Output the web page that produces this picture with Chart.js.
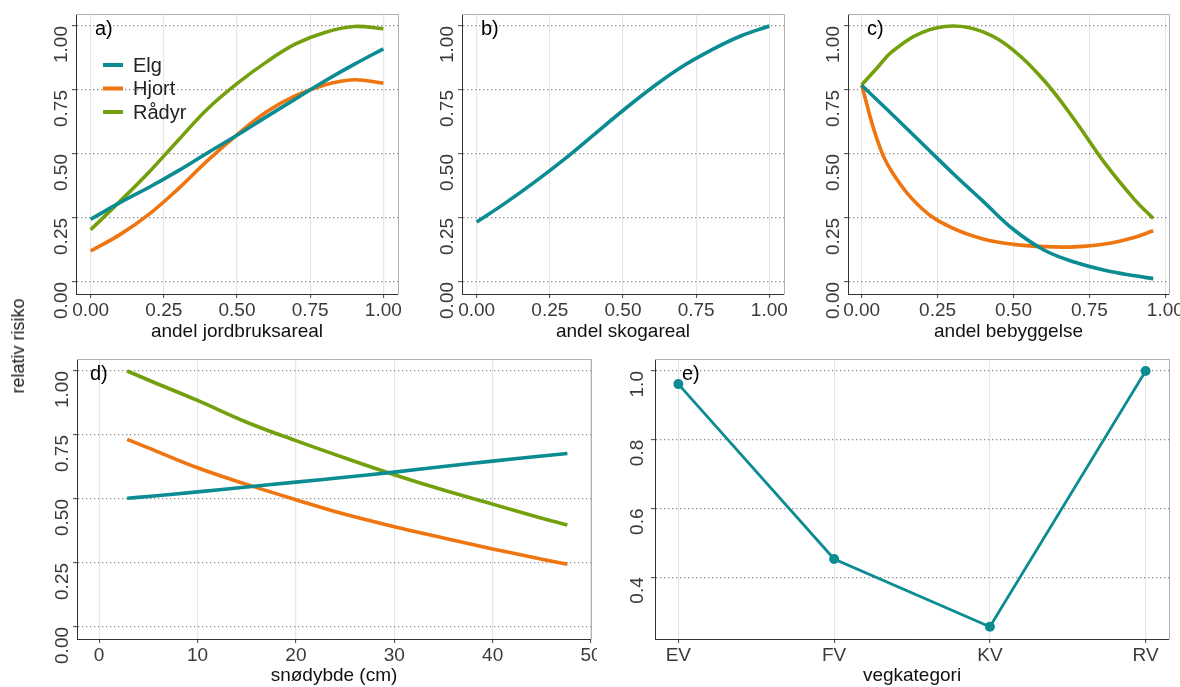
<!DOCTYPE html>
<html lang="no">
<head>
<meta charset="UTF-8">
<title>relativ risiko</title>
<style>
  body { margin: 0; width: 1180px; height: 687px; overflow: hidden; background: #fff; position: relative;
         font-family: "Liberation Sans", Arial, sans-serif; }
  canvas { position: absolute; }
  #ylab { position: absolute; left: 18px; top: 346px; transform: translate(-50%, -50%) rotate(-90deg);
          font-family: "Liberation Sans", Arial, sans-serif; font-size: 18px; font-weight: 400;
          color: #1a1a1a; white-space: nowrap; line-height: 1; }
</style>
</head>
<body>
<canvas id="panelA" width="412" height="345" style="left:0px;top:0px"></canvas>
<canvas id="panelB" width="398" height="345" style="left:400px;top:0px"></canvas>
<canvas id="panelC" width="394" height="345" style="left:786px;top:0px"></canvas>
<canvas id="panelD" width="597" height="350" style="left:0px;top:345px"></canvas>
<canvas id="panelE" width="583" height="350" style="left:597px;top:345px"></canvas>
<div id="ylab">relativ risiko</div>

<script src="https://cdn.jsdelivr.net/npm/chart.js"></script>
<script>
// ---- data ----
const species = ['Elg', 'Hjort', 'Rådyr'];

// a) andel jordbruksareal
const jordX = [0, 0.1, 0.2, 0.3, 0.4, 0.5, 0.6, 0.7, 0.8, 0.9, 1.0];
const jordElg = [0.245, 0.31, 0.37, 0.435, 0.505, 0.573, 0.645, 0.715, 0.785, 0.85, 0.911];
const jordHjort = [0.121, 0.185, 0.265, 0.365, 0.475, 0.575, 0.664, 0.728, 0.77, 0.79, 0.777];
const jordRadyr = [0.204, 0.315, 0.43, 0.555, 0.677, 0.775, 0.859, 0.93, 0.975, 0.998, 0.99];

// b) andel skogareal
const skogX = [0, 0.1, 0.2, 0.3, 0.4, 0.5, 0.6, 0.7, 0.8, 0.9, 1.0];
const skogElg = [0.234, 0.31, 0.392, 0.48, 0.575, 0.67, 0.76, 0.84, 0.905, 0.96, 1.0];

// c) andel bebyggelse
const bebX = [0, 0.05, 0.1, 0.2, 0.3, 0.4, 0.5, 0.6, 0.7, 0.8, 0.9, 0.96];
const bebElg = [0.768, 0.712, 0.655, 0.54, 0.425, 0.315, 0.205, 0.125, 0.078, 0.046, 0.024, 0.013];
const bebHjort = [0.77, 0.56, 0.43, 0.285, 0.21, 0.168, 0.147, 0.138, 0.137, 0.148, 0.175, 0.2];
const bebRadyr = [0.77, 0.835, 0.9, 0.975, 1.0, 0.977, 0.905, 0.788, 0.635, 0.465, 0.32, 0.248];

// d) snødybde (cm)
const snoX = [2.85, 5, 10, 15, 20, 25, 30, 35, 40, 45, 47.6];
const snoElg = [0.503, 0.51, 0.528, 0.547, 0.566, 0.585, 0.605, 0.627, 0.648, 0.668, 0.678];
const snoHjort = [0.733, 0.70, 0.622, 0.557, 0.497, 0.44, 0.392, 0.348, 0.305, 0.265, 0.245];
const snoRadyr = [1.0, 0.965, 0.885, 0.80, 0.728, 0.66, 0.595, 0.535, 0.48, 0.425, 0.398];

// e) vegkategori
const vegKategori = ['EV', 'FV', 'KV', 'RV'];
const vegElg = [0.962, 0.453, 0.256, 1.0];

// tick values
const propTicks = [0, 0.25, 0.5, 0.75, 1.0];
const snoTicks = [0, 10, 20, 30, 40, 50];
const vegYTicks = [0.4, 0.6, 0.8, 1.0];

// ---- styling ----
const colours = { Elg: '#0b8c93', Hjort: '#ee750f', 'Rådyr': '#74a00e' };
const FONT = '"Liberation Sans", Arial, sans-serif';

function pts(xs, ys) {
  return xs.map((x, i) => ({ x: x, y: ys[i] }));
}

function curve(name, xs, ys) {
  return {
    label: name, data: pts(xs, ys),
    borderColor: colours[name], backgroundColor: colours[name],
    borderWidth: 3.6, pointRadius: 0, tension: 0.4, fill: false
  };
}

function frameAndTag(tag, dx) {
  return {
    id: 'frameAndTag',
    afterDraw(chart) {
      const { ctx, chartArea: a } = chart;
      ctx.save();
      ctx.strokeStyle = '#b0b0b0';
      ctx.lineWidth = 1;
      ctx.beginPath();
      ctx.moveTo(a.left, Math.round(a.top) + 0.5);
      ctx.lineTo(Math.round(a.right) + 0.5, Math.round(a.top) + 0.5);
      ctx.lineTo(Math.round(a.right) + 0.5, a.bottom);
      ctx.stroke();
      ctx.fillStyle = '#000';
      ctx.font = '20px ' + FONT;
      ctx.textBaseline = 'alphabetic';
      ctx.fillText(tag, a.left + dx, a.top + 21);
      ctx.restore();
    }
  };
}

// legend drawn inside panel a
const speciesKey = {
  id: 'speciesKey',
  afterDraw(chart) {
    const { ctx, chartArea: a } = chart;
    ctx.save();
    ctx.font = '20px ' + FONT;
    ctx.textBaseline = 'middle';
    chart.data.datasets.forEach((ds, i) => {
      const y = a.top + 51 + i * 23.5;
      ctx.strokeStyle = ds.borderColor;
      ctx.lineWidth = 4;
      ctx.beginPath();
      ctx.moveTo(a.left + 27, y);
      ctx.lineTo(a.left + 47, y);
      ctx.stroke();
      ctx.fillStyle = '#222';
      ctx.fillText(ds.label, a.left + 57, y + 1);
    });
    ctx.restore();
  }
};

function xScale(o) {
  return {
    type: 'linear', min: o.min, max: o.max,
    afterBuildTicks: s => { s.ticks = o.ticks.map(v => ({ value: v })); },
    afterFit: s => { s.height = o.height; s.paddingLeft = 0; s.paddingRight = 0; },
    grid: { color: '#e6e6e6', lineWidth: 1.2, tickLength: 4, tickColor: '#444', tickWidth: 1, tickBorderDash: [] },
    border: { display: true, color: '#333', width: 1, dash: [] },
    ticks: { autoSkip: false, maxRotation: 0, minRotation: 0, padding: 1, color: '#3a3a3a',
             font: { family: FONT, size: 19 }, callback: o.fmt },
    title: { display: true, text: o.title, color: '#111', font: { family: FONT, size: 19 },
             padding: { top: 0, bottom: o.titlePad } }
  };
}

// y labels are turned 90 degrees and end at their tick, as in the original
function yScale(o) {
  return {
    type: 'linear', min: o.min, max: o.max,
    afterBuildTicks: s => { s.ticks = o.ticks.map(v => ({ value: v })); },
    afterFit: s => { s.width = o.width; s.paddingTop = 0; s.paddingBottom = 0; },
    grid: { color: '#8a8a8a', lineWidth: 1.3, tickLength: 4, tickColor: '#444', tickWidth: 1, tickBorderDash: [] },
    border: { display: true, color: '#333', width: 1, dash: [1.3, 2.7] },
    ticks: { autoSkip: false, minRotation: 90, maxRotation: 90, crossAlign: 'near', padding: o.tickPad,
             color: '#3a3a3a', font: { family: FONT, size: 19 }, callback: o.fmt }
  };
}

function panel(id, o) {
  const plugins = [frameAndTag(o.tag, o.tagDx)];
  if (o.key) plugins.push(speciesKey);
  return new Chart(document.getElementById(id), {
    type: 'line',
    data: { datasets: o.datasets },
    options: {
      responsive: false, animation: false, events: [],
      layout: { padding: { left: 0, top: 14, right: o.padRight, bottom: 0 } },
      plugins: { legend: { display: false }, tooltip: { enabled: false } },
      scales: { x: xScale(o.x), y: yScale(o.y) }
    },
    plugins: plugins
  });
}

const fmt2 = v => v.toFixed(2);
const propY = w => ({ min: -0.047, max: 1.047, ticks: propTicks, fmt: fmt2, width: w, tickPad: 10 });

panel('panelA', {
  tag: 'a)', tagDx: 19, key: true, padRight: 14,
  datasets: [curve('Elg', jordX, jordElg), curve('Hjort', jordX, jordHjort), curve('Rådyr', jordX, jordRadyr)],
  x: { min: -0.05, max: 1.05, ticks: propTicks, fmt: fmt2, height: 51, title: 'andel jordbruksareal', titlePad: 1.5 },
  y: propY(76)
});

panel('panelB', {
  tag: 'b)', tagDx: 19, padRight: 14,
  datasets: [curve('Elg', skogX, skogElg)],
  x: { min: -0.05, max: 1.05, ticks: propTicks, fmt: fmt2, height: 51, title: 'andel skogareal', titlePad: 1.5 },
  y: propY(62)
});

panel('panelC', {
  tag: 'c)', tagDx: 19, padRight: 11,
  datasets: [curve('Elg', bebX, bebElg), curve('Hjort', bebX, bebHjort), curve('Rådyr', bebX, bebRadyr)],
  x: { min: -0.045, max: 1.012, ticks: propTicks, fmt: fmt2, height: 51, title: 'andel bebyggelse', titlePad: 1.5 },
  y: propY(62)
});

panel('panelD', {
  tag: 'd)', tagDx: 13, padRight: 6,
  datasets: [curve('Elg', snoX, snoElg), curve('Hjort', snoX, snoHjort), curve('Rådyr', snoX, snoRadyr)],
  x: { min: -2.25, max: 50, ticks: snoTicks, fmt: v => String(v), height: 56, title: 'snødybde (cm)', titlePad: 8 },
  y: propY(77)
});

panel('panelE', {
  tag: 'e)', tagDx: 27, padRight: 11,
  datasets: [{
    label: 'Elg', data: vegElg.map((v, i) => ({ x: i, y: v })),
    borderColor: colours.Elg, backgroundColor: colours.Elg,
    borderWidth: 2.8, pointRadius: 5, pointBorderWidth: 0, tension: 0, fill: false
  }],
  x: { min: -0.15, max: 3.15, ticks: [0, 1, 2, 3], fmt: v => vegKategori[v], height: 56, title: 'vegkategori', titlePad: 8 },
  y: { min: 0.2204, max: 1.035, ticks: vegYTicks, fmt: v => v.toFixed(1), width: 58, tickPad: 13.5 }
});
</script>
</body>
</html>
